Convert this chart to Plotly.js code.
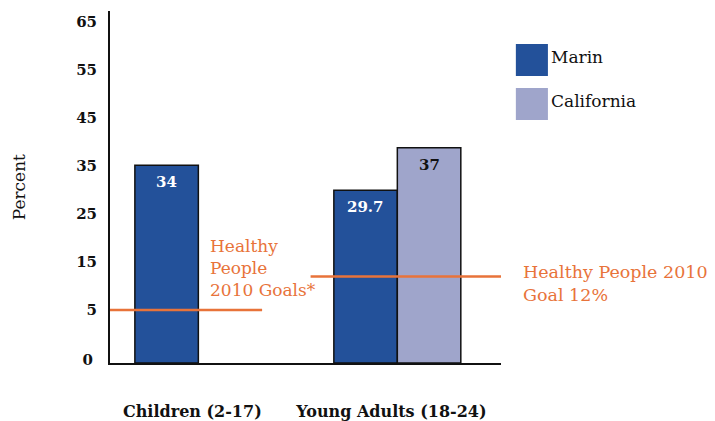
<!DOCTYPE html>
<html>
<head>
<meta charset="utf-8">
<script src="https://cdn.plot.ly/plotly-3.0.1.min.js"></script>
<style>
  html, body { margin: 0; padding: 0; background: #ffffff; }
  #chart { width: 715px; height: 421px; }
</style>
</head>
<body>
<div id="chart"></div>
<script>
// Age groups on the x axis
const groups = ['Children (2-17)', 'Young Adults (18-24)'];

// Percent values per area
const marinValues = [34, 29.7];
const californiaValues = [null, 37];
const seriesNames = ['Marin', 'California'];

// Healthy People 2010 targets: children, young adults
const goalValues = [5, 12];

// Printed scale labels
const scaleTicks = [5, 15, 25, 35, 45, 55, 65];
const scaleTickText = ['5', '15', '25', '35', '45', '55', '65'];
const zeroTick = [0];
const zeroTickText = ['0'];

const MARIN = '#23519a';
const CALIFORNIA = '#9fa5cb';
const GOAL = '#e8733a';
const FONT = 'DejaVu Serif, Liberation Serif, serif';
const HALF_BAR_PX = 31.75;

const fmt = v => (v === null ? '' : String(v));

const traces = [
  {
    type: 'bar', name: seriesNames[0], x: groups, y: marinValues,
    marker: { color: MARIN, line: { color: '#111111', width: 1.5 } },
    hoverinfo: 'skip'
  },
  {
    type: 'bar', name: seriesNames[1], x: groups, y: californiaValues,
    marker: { color: CALIFORNIA, line: { color: '#111111', width: 1.5 } },
    hoverinfo: 'skip'
  }
];

// Value labels placed just inside the top of each bar
function valueLabels(values, side, color) {
  const out = [];
  values.forEach((v, i) => {
    if (v === null) return;
    out.push({
      xref: 'x', yref: 'y', x: groups[i], y: v, xshift: side * HALF_BAR_PX, yshift: -17,
      xanchor: 'center', yanchor: 'middle', text: fmt(v), showarrow: false,
      font: { family: FONT, size: 15, color: color, weight: 'bold' }
    });
  });
  return out;
}

// Legend drawn as large swatches with the series names beside them
const legendSwatches = [
  { color: MARIN, y0: 0.815, y1: 0.906 },
  { color: CALIFORNIA, y0: 0.690, y1: 0.781 }
];

const shapes = [
  // children's goal line
  { type: 'line', xref: 'paper', yref: 'y2', x0: 0, x1: 0.389, y0: goalValues[0], y1: goalValues[0],
    line: { color: GOAL, width: 2.5 } },
  // young adults' goal line
  { type: 'line', xref: 'paper', yref: 'y2', x0: 0.513, x1: 1.0, y0: goalValues[1], y1: goalValues[1],
    line: { color: GOAL, width: 2.5 } }
].concat(legendSwatches.map(s => ({
  type: 'rect', xref: 'paper', yref: 'paper', x0: 1.038, x1: 1.120, y0: s.y0, y1: s.y1,
  fillcolor: s.color, line: { width: 0 }
})));

const annotations = [
  { xref: 'paper', yref: 'paper', x: 1.122, y: 0.869, xanchor: 'left', yanchor: 'middle',
    text: seriesNames[0], showarrow: false, font: { family: FONT, size: 17, color: '#111111' } },
  { xref: 'paper', yref: 'paper', x: 1.122, y: 0.744, xanchor: 'left', yanchor: 'middle',
    text: seriesNames[1], showarrow: false, font: { family: FONT, size: 17, color: '#111111' } },
  { xref: 'paper', yref: 'paper', x: 0.2506, y: 0.27, xanchor: 'left', yanchor: 'middle', align: 'left',
    text: 'Healthy<br>People<br>2010 Goals*', showarrow: false,
    font: { family: FONT, size: 17, color: GOAL } },
  { xref: 'paper', yref: 'paper', x: 1.051, y: 0.227, xanchor: 'left', yanchor: 'middle', align: 'left',
    text: 'Healthy People 2010<br>Goal ' + goalValues[1] + '%', showarrow: false,
    font: { family: FONT, size: 17.5, color: GOAL } },
  { xref: 'paper', yref: 'paper', x: -0.232, y: 0.5, xanchor: 'center', yanchor: 'middle',
    text: 'Percent', textangle: -90, showarrow: false,
    font: { family: FONT, size: 17, color: '#111111' } }
].concat(valueLabels(marinValues, -1, '#ffffff'), valueLabels(californiaValues, 1, '#111111'));

const layout = {
  width: 715, height: 421,
  margin: { l: 110, r: 214, t: 11, b: 58 },
  paper_bgcolor: '#ffffff', plot_bgcolor: '#ffffff',
  barmode: 'group', bargap: 0.362, bargroupgap: 0,
  showlegend: false,
  font: { family: FONT, color: '#111111' },
  xaxis: {
    type: 'category', range: [-0.444, 1.521],
    showline: true, linecolor: '#111111', linewidth: 2,
    showgrid: false, zeroline: false, ticks: '',
    ticklabelstandoff: 33, ticklabelshift: -6,
    tickfont: { family: FONT, size: 16, color: '#111111', weight: 'bold' }
  },
  yaxis: {
    range: [0, 60.5],
    showline: true, linecolor: '#111111', linewidth: 2,
    showgrid: false, zeroline: false, ticks: '',
    tickmode: 'array', tickvals: zeroTick, ticktext: zeroTickText,
    ticklabelshift: -3, ticklabelstandoff: 12,
    tickfont: { family: FONT, size: 15, color: '#111111', weight: 'bold' }
  },
  yaxis2: {
    overlaying: 'y', side: 'left', range: [-6.04, 67.29],
    showline: false, showgrid: false, zeroline: false, ticks: '',
    tickmode: 'array', tickvals: scaleTicks, ticktext: scaleTickText,
    ticklabelstandoff: 12,
    tickfont: { family: FONT, size: 15, color: '#111111', weight: 'bold' }
  },
  shapes: shapes,
  annotations: annotations
};

Plotly.newPlot('chart', traces, layout, { displayModeBar: false, staticPlot: true });
</script>
</body>
</html>
